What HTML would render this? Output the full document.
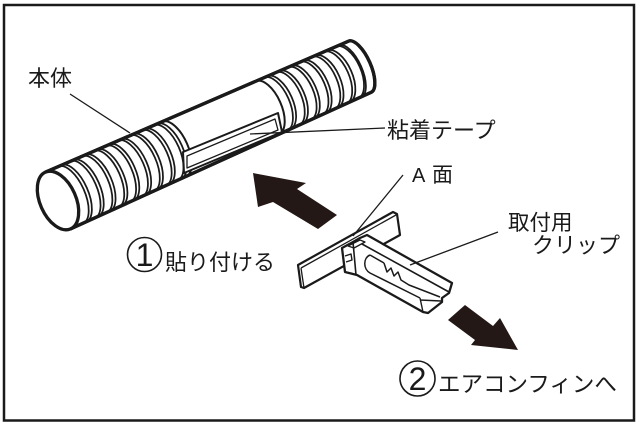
<!DOCTYPE html>
<html><head><meta charset="utf-8"><style>
html,body{margin:0;padding:0;background:#fff;}
svg{display:block}
text{font-family:"Liberation Sans","Noto Sans CJK JP",sans-serif;fill:#1a1a1a}
</style></head><body>
<svg width="640" height="426" viewBox="0 0 640 426" xmlns="http://www.w3.org/2000/svg">
<rect x="0" y="0" width="640" height="426" fill="#fff"/>
<rect x="4" y="5" width="630" height="415.5" fill="none" stroke="#1a1a1a" stroke-width="2.5"/>

<!-- cylinder body -->
<g transform="translate(58,200.5) rotate(-23.9)" stroke="#1a1a1a" fill="none" stroke-linejoin="round">
 <path d="M0,-31 L330,-28 A11 28 0 0 1 330,28 L0,31 Z" fill="#fff" stroke-width="3.3"/>
 <g stroke-width="1.75">
  <path d="M14,-30.9 A14 30.9 0 0 1 14,30.9 M17.5,-30.8 A14 30.8 0 0 1 17.5,30.8"/>
  <path d="M27,-30.8 A14 30.8 0 0 1 27,30.8 M30.5,-30.7 A14 30.7 0 0 1 30.5,30.7"/>
  <path d="M40,-30.6 A14 30.6 0 0 1 40,30.6 M43.5,-30.6 A14 30.6 0 0 1 43.5,30.6"/>
  <path d="M53,-30.5 A14 30.5 0 0 1 53,30.5 M56.5,-30.5 A14 30.5 0 0 1 56.5,30.5"/>
  <path d="M66,-30.4 A14 30.4 0 0 1 66,30.4 M69.5,-30.4 A14 30.4 0 0 1 69.5,30.4"/>
  <path d="M79,-30.3 A14 30.3 0 0 1 79,30.3 M82.5,-30.3 A14 30.3 0 0 1 82.5,30.3"/>
  <path d="M92,-30.2 A14 30.2 0 0 1 92,30.2 M95.5,-30.1 A14 30.1 0 0 1 95.5,30.1"/>
  <path d="M105,-30.1 A14 30.1 0 0 1 105,30.1 M108.5,-30 A14 30 0 0 1 108.5,30"/>
  <path d="M118,-29.9 A14 29.9 0 0 1 118,29.9 M121.5,-29.9 A14 29.9 0 0 1 121.5,29.9"/>
  <path d="M127,-29.8 A14 29.8 0 0 1 127,29.8" stroke-width="2"/>
  <path d="M229,-28.9 A14 28.9 0 0 1 229,28.9" stroke-width="2"/>
  <path d="M238,-28.9 A14 28.9 0 0 1 238,28.9 M241.5,-28.8 A14 28.8 0 0 1 241.5,28.8"/>
  <path d="M251,-28.7 A14 28.7 0 0 1 251,28.7 M254.5,-28.7 A14 28.7 0 0 1 254.5,28.7"/>
  <path d="M264,-28.6 A14 28.6 0 0 1 264,28.6 M267.5,-28.6 A14 28.6 0 0 1 267.5,28.6"/>
  <path d="M277,-28.5 A14 28.5 0 0 1 277,28.5 M280.5,-28.5 A14 28.5 0 0 1 280.5,28.5"/>
  <path d="M290,-28.4 A14 28.4 0 0 1 290,28.4 M293.5,-28.4 A14 28.4 0 0 1 293.5,28.4"/>
  <path d="M303,-28.3 A14 28.3 0 0 1 303,28.3 M306.5,-28.2 A14 28.2 0 0 1 306.5,28.2"/>
  <path d="M316,-28.2 A14 28.2 0 0 1 316,28.2 M319.5,-28.1 A12 28.1 0 0 1 319.5,28.1"/>
 </g>
 <path d="M0,-31 L330,-28 A11 28 0 0 1 330,28 L0,31" stroke-width="3.3"/>
 <ellipse cx="0" cy="0" rx="18" ry="31" fill="#fff" stroke-width="3.3"/>
</g>

<!-- tape -->
<g stroke="#1a1a1a" fill="none" stroke-linejoin="round">
 <path d="M183,152 L278,113 L282,132 L184,173 Z" fill="#fff" stroke-width="2"/>
 <path d="M187,156 L275,119 L278,130 L187,168 Z" stroke-width="1.3"/>
</g>

<!-- leader lines -->
<g stroke="#1a1a1a" stroke-width="1.3" fill="none">
 <line x1="70" y1="94" x2="130" y2="133"/>
 <line x1="250" y1="134" x2="385" y2="128"/>
</g>

<!-- arrows -->
<polygon points="253,173 306,183 297,189 337,215 318,229 273,202 258,207" fill="#231815"/>
<polygon points="465,305 493,326 500,318 518,350 471,345 475,340 448,320" fill="#231815"/>

<!-- plate -->
<g stroke="#1a1a1a" fill="none" stroke-linejoin="round">
 <path d="M298,265 L393,212 L397,214 L400,235 L304,288 L301,287 Z" fill="#fff" stroke-width="2.2"/>
 <path d="M301,268 L396,215 M301,268 L304,288" stroke-width="1.3"/>
</g>

<!-- clip -->
<g stroke="#1a1a1a" fill="none" stroke-linejoin="round">
 <path d="M342,248 L353,242 L360,238 L367,235 L452,283 L449,293 L442,298 L442,302 L428,313 L423,312 L357,275 L345,272 Z" fill="#fff" stroke-width="2.3"/>
 <path d="M362,244 L449,292" stroke-width="1.6"/>
 <path d="M353,242 L356,275" stroke-width="1.6"/>
 <path d="M345,256 L351,254 L352,260 L346,262" stroke-width="1.4"/>
 <path d="M348,246 L360,240 L365,242 L354,248 Z" stroke-width="1.3"/>
 <path d="M370,255 C363,258 363,269 370,273 L420,298" stroke-width="1.5"/>
 <path d="M370,255 L384,263" stroke-width="1.5"/>
 <path d="M384,263 L387,272 L391,268 L394,276 L398,272 L401,280 L409,285 L440,297" stroke-width="1.5"/>
 <path d="M420,298 L423,312 M420,300 L441,301" stroke-width="1.4"/>
</g>

<!-- leaders for A面 and clip -->
<g stroke="#1a1a1a" stroke-width="1.3" fill="none">
 <line x1="403" y1="175" x2="353" y2="236"/>
 <line x1="498" y1="232" x2="410" y2="265"/>
</g>

<!-- labels -->
<text x="28" y="86" font-size="22">本体</text>
<text x="387" y="138" font-size="22">粘着テープ</text>
<text x="412" y="182" font-size="20">A</text>
<text x="432" y="182" font-size="21">面</text>
<text x="508" y="230" font-size="21.5">取付用</text>
<text x="532" y="253" font-size="22">クリップ</text>

<circle cx="144.5" cy="254.5" r="17" fill="none" stroke="#1a1a1a" stroke-width="1.6"/>
<text x="144.5" y="266" font-size="32" text-anchor="middle">1</text>
<text x="165" y="270" font-size="22">貼り付ける</text>

<circle cx="417.5" cy="378.5" r="17.5" fill="none" stroke="#1a1a1a" stroke-width="1.6"/>
<text x="417.5" y="390" font-size="32" text-anchor="middle">2</text>
<text x="438" y="392" font-size="22.5">エアコンフィンへ</text>
</svg>
</body></html>
